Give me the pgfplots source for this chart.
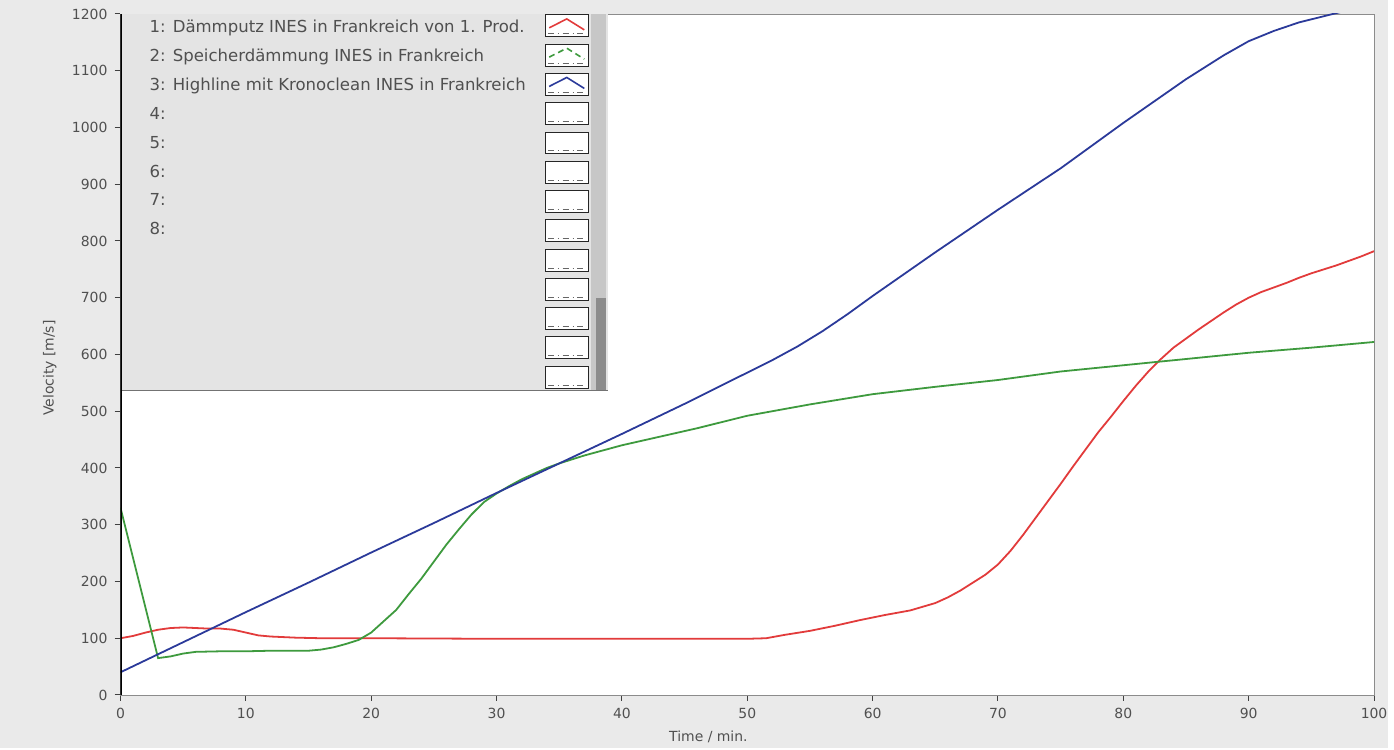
\documentclass[border=0pt]{standalone}
\usepackage{fontspec}
\setmainfont{DejaVu Sans}
\usepackage{pgfplots}
\pgfplotsset{compat=1.18}
\definecolor{bg}{HTML}{EAEAEA}
\definecolor{lg}{HTML}{E4E4E4}
\definecolor{txt}{HTML}{505050}
\definecolor{cred}{HTML}{E23B3B}
\definecolor{cgreen}{HTML}{3E9A3E}
\definecolor{cblue}{HTML}{2B3A9A}
\begin{document}
\begin{tikzpicture}
\fill[bg] (-60.5pt,-26.5pt) rectangle (636.5pt,349pt);
\begin{axis}[
  at={(0,0)}, anchor=origin,
  scale only axis, width=629.5pt, height=342pt,
  xmin=0, xmax=100, ymin=0, ymax=1200,
  xtick={0,10,...,100}, ytick={0,100,...,1200},
  tick align=outside, xtick pos=lower, ytick pos=left,
  major tick length=3pt,
  tick style={black!75, line width=0.5pt},
  axis background/.style={fill=white},
  axis line style={black!45, line width=0.4pt},
  ticklabel style={font=\fontsize{7}{8}\selectfont, text=txt},
  /pgf/number format/assume math mode=true,
  /pgf/number format/1000 sep={},
  xlabel={Time / min.}, ylabel={Velocity [m/s]},
  label style={font=\fontsize{7}{8}\selectfont, text=txt},
  xlabel style={at={(axis description cs:0.469,-0.0614)}, anchor=center},
  ylabel style={at={(axis description cs:-0.0564,0.48)}, anchor=center},
  every axis plot/.append style={line width=0.9pt},
]
\addplot[cred] coordinates {
(0,100) (1,104) (2,110) (3,115) (4,118) (5,119) (6,118) (7,117) (8,117) (9,115)
(10,110) (11,105) (12,103) (14,101) (16,100) (20,100) (30,99) (40,99) (50,99)
(51.5,100) (53,106) (55,113) (57,122) (59,132) (61,141) (63,149) (65,162) (66,172)
(67,184) (68,198) (69,212) (70,230) (71,254) (72,282) (73,312) (74,342) (75,372)
(76,403) (77,433) (78,463) (79,490) (80,518) (81,545) (82,570) (83,592) (84,612)
(85,628) (86,644) (87,659) (88,674) (89,688) (90,700) (91,710) (92,718) (93,726)
(94,735) (95,743) (96,750) (97,757) (98,765) (99,773) (100,782)
};
\addplot[cgreen] coordinates {
(0,330) (3,65) (4,68) (5,73) (6,76) (8,77) (10,77) (12,78) (15,78) (16,80) (17,84)
(18,90) (19,97) (20,110) (21,130) (22,150) (23,178) (24,205) (25,235) (26,265)
(27,292) (28,318) (29,340) (30,355) (31,368) (32,380) (33,390) (34,400) (35,408)
(37,422) (40,440) (43,455) (46,470) (50,492) (55,512) (60,530) (65,543) (70,555)
(75,570) (80,581) (85,592) (90,603) (95,612) (100,622)
};
\addplot[cblue] coordinates {
(0,40) (5,93) (10,146) (15,198) (20,251) (25,303) (30,356) (35,408) (40,460)
(45,513) (50,568) (52,590) (54,614) (56,641) (58,671) (60,703) (65,780) (70,855)
(75,928) (80,1008) (85,1085) (88,1127) (90,1152) (92,1170) (94,1185) (96,1196)
(98,1207) (100,1218)
};
% legend panel
\fill[lg] (axis cs:0.1,537) rectangle (axis cs:38.9,1200);
\fill[black!22] (axis cs:37.5,537) rectangle (axis cs:38.7,1200);
\fill[black!45] (axis cs:37.9,537) rectangle (axis cs:38.7,700);
\draw[black!55] (axis cs:0.1,537) -- (axis cs:38.9,537);
\pgfplotsinvokeforeach{0,...,12}{
  \filldraw[fill=white, draw=black!85, line width=0.5pt] (axis cs:33.9,{(683-29.4*#1)/0.57}) rectangle (axis cs:37.3,{(661-29.4*#1)/0.57});
  \draw[black!60, dash dot, line width=0.5pt] (axis cs:34.1,{(664-29.4*#1)/0.57}) -- (axis cs:37.1,{(664-29.4*#1)/0.57});
}
\draw[cred, line width=0.8pt] (axis cs:34.2,{(683-13)/0.57}) -- (axis cs:35.6,{(683-4)/0.57}) -- (axis cs:37.0,{(683-15)/0.57});
\draw[cgreen, line width=0.8pt, densely dashed] (axis cs:34.2,{(683-29.4-13)/0.57}) -- (axis cs:35.6,{(683-29.4-4)/0.57}) -- (axis cs:37.0,{(683-29.4-15)/0.57});
\draw[cblue, line width=0.8pt] (axis cs:34.2,{(683-58.8-13)/0.57}) -- (axis cs:35.6,{(683-58.8-4)/0.57}) -- (axis cs:37.0,{(683-58.8-15)/0.57});
\begin{scope}[every node/.style={anchor=west, text=txt, font=\fontsize{8.3}{9}\selectfont, inner sep=0pt}]
\node at (axis cs:2.3,1175.4) {1: Dämmputz INES in Frankreich von 1. Prod.};
\node at (axis cs:2.3,1124.6) {2: Speicherdämmung INES in Frankreich};
\node at (axis cs:2.3,1073.7) {3: Highline mit Kronoclean INES in Frankreich};
\node at (axis cs:2.3,1024.6) {4:};
\node at (axis cs:2.3,973.7) {5:};
\node at (axis cs:2.3,922.8) {6:};
\node at (axis cs:2.3,873.7) {7:};
\node at (axis cs:2.3,821.1) {8:};
\end{scope}
\draw[black, line width=1.1pt] (axis cs:0,0) -- (axis cs:0,1200);
\end{axis}
\end{tikzpicture}
\end{document}
